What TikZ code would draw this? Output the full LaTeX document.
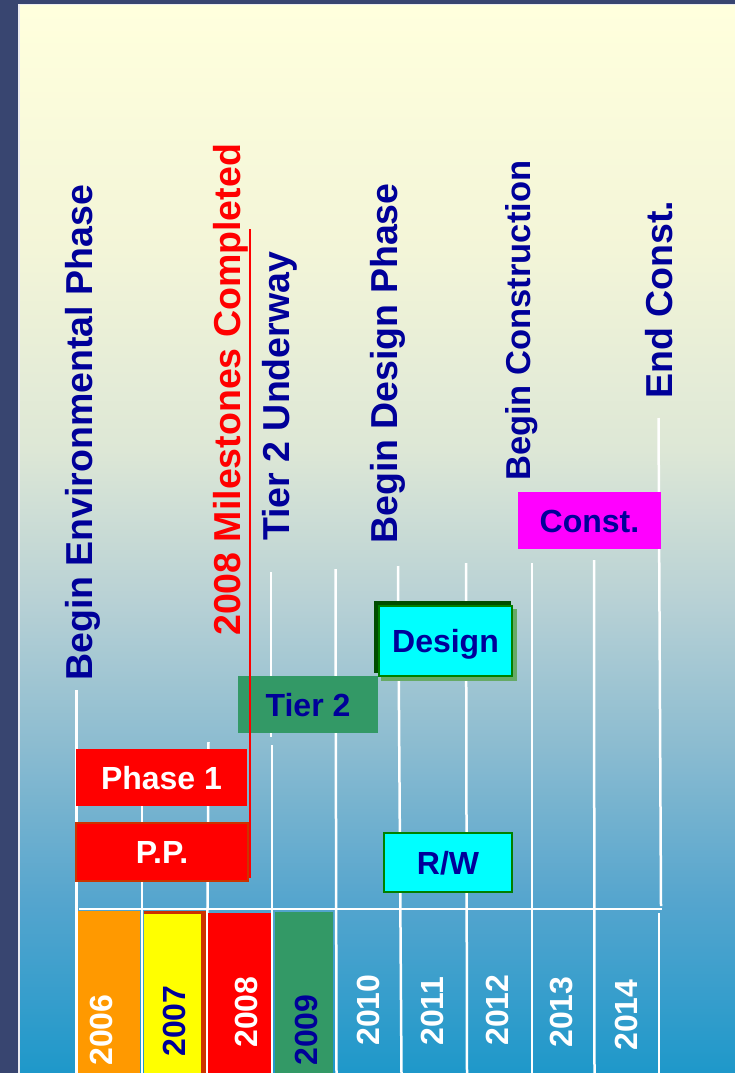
\documentclass[tikz,border=0pt]{standalone}
\usepackage{fontspec}
\setmainfont{Liberation Sans}
\definecolor{navy}{HTML}{000099}
\definecolor{framec}{HTML}{384570}
\definecolor{ppborder}{HTML}{CC3300}
\definecolor{tiergreen}{HTML}{339966}
\definecolor{boxgreen}{HTML}{008000}
\definecolor{darkg}{HTML}{004D00}
\definecolor{lightg}{HTML}{66AA66}
\definecolor{yorange}{HTML}{FF9900}
\definecolor{cyanc}{HTML}{00FFFF}
\definecolor{magc}{HTML}{FF00FF}
\definecolor{yellc}{HTML}{FFFF00}
\definecolor{redc}{HTML}{FF0000}
\definecolor{bgA}{HTML}{FFFFDD}
\definecolor{bgB}{HTML}{F3F5D8}
\definecolor{bgC}{HTML}{DDE7D6}
\definecolor{bgD}{HTML}{B8D1D5}
\definecolor{bgE}{HTML}{8ABBD0}
\definecolor{bgF}{HTML}{55A5CE}
\definecolor{bgG}{HTML}{1E98CA}
\begin{document}
\begin{tikzpicture}[x=1pt,y=-1pt,
  grid/.style={white, line width=2.5pt},
  lbl/.style={rotate=90, anchor=base west, inner sep=0pt, font=\fontsize{37.5}{40}\selectfont\bfseries, text=navy},
  yr/.style={rotate=90, anchor=center, inner sep=0pt, font=\fontsize{32}{34}\selectfont\bfseries, text height=23pt, text depth=0pt},
  bar/.style={inner sep=0pt, font=\fontsize{32}{34}\selectfont\bfseries, text height=23pt, text depth=0pt}]
\useasboundingbox (0,0) rectangle (735,1073);
% frame
\fill[framec] (0,0) rectangle (735,1073);
\fill[white!90!framec] (17.5,4.5) rectangle (735,1073);
% background gradient
\shade[top color=bgA, bottom color=bgB] (20,6) rectangle (735,250.5);
\shade[top color=bgB, bottom color=bgC] (20,250) rectangle (735,450.5);
\shade[top color=bgC, bottom color=bgD] (20,450) rectangle (735,600.5);
\shade[top color=bgD, bottom color=bgE] (20,600) rectangle (735,750.5);
\shade[top color=bgE, bottom color=bgF] (20,750) rectangle (735,900.5);
\shade[top color=bgF, bottom color=bgG] (20,900) rectangle (735,1073);
% grid lines
\draw[grid] (76.5,690) -- (76.5,1073);
\draw[grid] (142,752) -- (142,1073);
\draw[grid] (208.5,742) -- (206.5,1073);
\draw[grid] (271,572) -- (271,737);
\draw[grid] (272,745) -- (272,1073);
\draw[grid] (335.5,569) -- (336.5,1073);
\draw[grid] (398,566) -- (401.5,1073);
\draw[grid] (466,563) -- (467,1073);
\draw[grid] (532,563) -- (532,1073);
\draw[grid] (594,560) -- (594.5,1073);
\draw[grid] (658.5,418) -- (661,906);
\draw[grid] (659,913) -- (659,1073);
\draw[grid] (79,909) -- (662,909);
% year boxes
\fill[yorange] (77.5,911) rectangle (140,1073);
\fill[ppborder] (143.5,911) rectangle (205.5,1073);
\fill[yellc] (143.5,914) rectangle (201,1073);
\fill[redc] (207.5,913) rectangle (270.5,1073);
\fill[tiergreen] (275,912) rectangle (333,1073);
% year labels
\node[yr, text=white] (y2006) at (101,1030) {2006};
\node[yr, text=navy] (y2007) at (174,1021) {2007};
\node[yr, text=white] (y2008) at (246,1012) {2008};
\node[yr, text=navy] (y2009) at (306,1030) {2009};
\node[yr, text=white] (y2010) at (368,1010) {2010};
\node[yr, text=white] (y2011) at (432,1011) {2011};
\node[yr, text=white] (y2012) at (497,1010) {2012};
\node[yr, text=white] (y2013) at (561,1012) {2013};
\node[yr, text=white] (y2014) at (626,1015) {2014};
% bars
\node[bar, fill=redc, text=white, minimum width=171pt, minimum height=57pt] (phase1) at (161.5,777.5) {Phase 1};
\node[bar, fill=redc, draw=ppborder, line width=2.5pt, text=white, minimum width=172pt, minimum height=58pt] (pp) at (162,852) {P.P.};
\node[bar, fill=tiergreen, text=navy, minimum width=140pt, minimum height=57pt] (tier2) at (308,704.5) {Tier 2};
\fill[lightg] (381,609) rectangle (517,681);
\fill[darkg] (374,601) rectangle (511,673);
\node[bar, fill=cyanc, draw=boxgreen, line width=2.5pt, text=navy, minimum width=133pt, minimum height=70pt] (design) at (445.5,641) {Design};
\node[bar, fill=cyanc, draw=boxgreen, line width=2.5pt, text=navy, minimum width=128pt, minimum height=59pt] (rw) at (448,862.5) {R/W};
\node[bar, fill=magc, text=navy, minimum width=143pt, minimum height=57pt] (const) at (589.5,520.5) {Const.};
% red milestone line
\draw[redc, line width=2.5pt] (250,229) -- (250,878);
% milestone labels
\node[lbl] (env) at (92.5,681) {Begin Environmental Phase};
\node[lbl, text=redc] (mile) at (240,636) {2008 Milestones Completed};
\node[lbl] (tieru) at (289,541) {Tier 2 Underway};
\node[lbl] (bdes) at (397,544) {Begin Design Phase};
\node[lbl, font=\fontsize{34.5}{37}\selectfont\bfseries] (bcons) at (530,481) {Begin Construction};
\node[lbl] (endc) at (672,399) {End Const.};
\end{tikzpicture}
\end{document}
